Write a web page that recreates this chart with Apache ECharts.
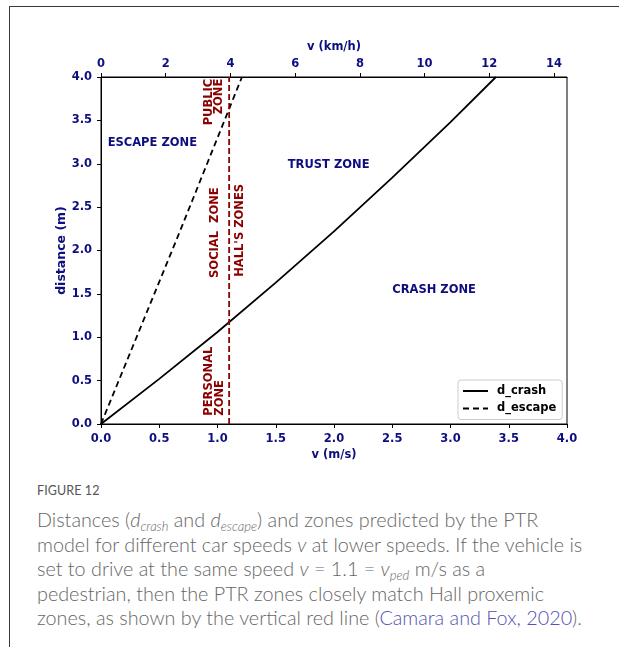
<!DOCTYPE html>
<html><head><meta charset="utf-8">
<script src="https://cdn.jsdelivr.net/npm/echarts@6/dist/echarts.min.js"></script>
<style>
html,body{margin:0;padding:0;background:#fff;width:619px;height:647px;overflow:hidden;}
#frame{position:absolute;left:9px;top:6px;width:640px;height:680px;border-top:1px solid #3a3a3a;border-left:1px solid #3a3a3a;}
#chart{position:absolute;left:0;top:0;width:619px;height:475px;}
#fig{position:absolute;left:37px;top:483px;font-family:Lato,"Open Sans",sans-serif;font-size:12.5px;color:#555;letter-spacing:0.1px;}
#cap{position:absolute;left:37px;top:507px;font-family:Lato,"Open Sans",sans-serif;font-weight:300;font-size:19.8px;line-height:24.5px;color:#666;white-space:nowrap;}
#cap i{font-style:italic;}
#cap sub{font-size:13px;font-style:italic;vertical-align:-4px;line-height:0;}
#cap a{color:#5252b0;text-decoration:none;}
</style></head>
<body>
<div id="frame"></div>
<div id="chart"></div>
<div id="fig">FIGURE 12</div>
<div id="cap">Distances (<i>d</i><sub>crash</sub> and <i>d</i><sub>escape</sub>) and zones predicted by the PTR<br>model for different car speeds <i>v</i> at lower speeds. If the vehicle is<br>set to drive at the same speed <i>v</i> = 1.1 = <i>v</i><sub>ped</sub> m/s as a<br>pedestrian, then the PTR zones closely match Hall proxemic<br>zones, as shown by the vertical red line (<a>Camara and Fox, 2020</a>).</div>
<script>
// ---- data ----
const vCrash = [0, 0.5, 1.0, 1.5, 2.0, 2.5, 3.0, 3.39];
const dCrash = [0, 0.52, 1.06, 1.63, 2.22, 2.84, 3.48, 4.0];
const vEscape = [0, 0.65, 1.21];
const dEscape = [0, 2.13, 4.0];
const vPed = [1.1, 1.1];
const dPed = [0, 4.0];
const xTicksMs = [0, 0.5, 1.0, 1.5, 2.0, 2.5, 3.0, 3.5, 4.0];
const xTicksKmh = [0, 2, 4, 6, 8, 10, 12, 14];
const yTicks = [0, 0.5, 1.0, 1.5, 2.0, 2.5, 3.0, 3.5, 4.0];
// zone annotations (data coordinates)
const zoneText = ['ESCAPE ZONE', 'TRUST ZONE', 'CRASH ZONE'];
const zoneV = [0.057, 1.954, 2.859];
const zoneD = [3.24, 2.99, 1.541];
const zoneAlign = ['left', 'center', 'center'];
const hallText = ['PUBLIC', 'ZONE', 'SOCIAL  ZONE', "HALL'S ZONES", 'PERSONAL', 'ZONE'];
const hallV = [0.925, 1.015, 0.980, 1.195, 0.929, 1.023];
const hallD = [3.98, 3.98, 2.206, 2.232, 0.096, 0.096];
const hallAlign = ['right', 'right', 'center', 'center', 'left', 'left'];

const NAVY = '#0e0e80', RED = '#8B0000';
const FONT = 'bold 11.5px "DejaVu Sans"';
const chart = echarts.init(document.getElementById('chart'));
const lbl = {color: NAVY, fontFamily: 'DejaVu Sans', fontWeight: 'bold', fontSize: 11.5};
const lblY = Object.assign({}, lbl, {fontSize: 12.5});
chart.setOption({
  animation: false,
  grid: {left: 101, top: 77, width: 466, height: 347, show: true, borderColor: '#000', borderWidth: 1},
  legend: {
    data: ['d_crash', 'd_escape'], orient: 'vertical', left: 458, top: 380,
    padding: [4, 6, 4, 4], itemGap: 3.5, itemWidth: 25, itemHeight: 12,
    itemStyle: {opacity: 0},
    backgroundColor: '#fff', borderColor: '#ccc', borderWidth: 1, borderRadius: 3,
    textStyle: {color: '#000', fontFamily: 'DejaVu Sans', fontWeight: 'bold', fontSize: 11.5, lineHeight: 14, padding: [0, 0, 0, 4]}
  },
  xAxis: [{
    type: 'value', min: 0, max: 4, interval: 0.5, position: 'bottom',
    name: 'v (m/s)', nameLocation: 'middle', nameGap: 25, nameMoveOverlap: false, nameTextStyle: lbl,
    axisLine: {lineStyle: {color: '#000', width: 1}},
    axisTick: {length: 4, lineStyle: {color: '#000'}, customValues: xTicksMs},
    axisLabel: Object.assign({margin: 9, formatter: v => v.toFixed(1), customValues: xTicksMs}, lbl),
    splitLine: {show: false}
  }, {
    type: 'value', min: 0, max: 14.4, position: 'top',
    name: 'v (km/h)', nameLocation: 'middle', nameGap: 24, nameMoveOverlap: false, nameTextStyle: lbl,
    axisLine: {lineStyle: {color: '#000', width: 1}},
    axisTick: {length: 4, lineStyle: {color: '#000'}, customValues: xTicksKmh},
    axisLabel: Object.assign({margin: 7, customValues: xTicksKmh, formatter: v => String(Math.round(v))}, lbl),
    splitLine: {show: false}
  }],
  yAxis: [{
    type: 'value', min: 0, max: 4, interval: 0.5,
    name: 'distance (m)', nameLocation: 'middle', nameGap: 33, nameMoveOverlap: false, nameRotate: 90, nameTextStyle: lblY,
    axisLine: {show: true, lineStyle: {color: '#000', width: 1}},
    axisTick: {show: true, length: 4, lineStyle: {color: '#000'}, customValues: yTicks},
    axisLabel: Object.assign({margin: 9, formatter: v => v.toFixed(1), customValues: yTicks}, lbl),
    splitLine: {show: false}
  }],
  series: [{
    name: 'd_crash', type: 'line', symbol: 'none', clip: true,
    data: vCrash.map((v, i) => [v, dCrash[i]]),
    lineStyle: {color: '#000', width: 1.8}, itemStyle: {color: '#000'}
  }, {
    name: 'd_escape', type: 'line', symbol: 'none', clip: true,
    data: vEscape.map((v, i) => [v, dEscape[i]]),
    lineStyle: {color: '#000', width: 1.8, type: [6, 4]}, itemStyle: {color: '#000'}
  }, {
    name: 'hall', type: 'line', symbol: 'none', clip: true,
    data: vPed.map((v, i) => [v, dPed[i]]),
    lineStyle: {color: RED, width: 1.8, type: [6, 3]}, itemStyle: {color: RED}
  }]
});

const g = [];
zoneText.forEach((t, i) => {
  const p = chart.convertToPixel({gridIndex: 0}, [zoneV[i], zoneD[i]]);
  g.push({type: 'text', x: p[0], y: p[1], style: {text: t, font: FONT, fill: NAVY, align: zoneAlign[i], verticalAlign: 'middle'}});
});
hallText.forEach((t, i) => {
  const p = chart.convertToPixel({gridIndex: 0}, [hallV[i], hallD[i]]);
  g.push({type: 'text', x: p[0], y: p[1], rotation: Math.PI / 2, style: {text: t, font: FONT, fill: RED, align: hallAlign[i], verticalAlign: 'middle'}});
});
chart.setOption({graphic: g});
</script>
</body></html>
